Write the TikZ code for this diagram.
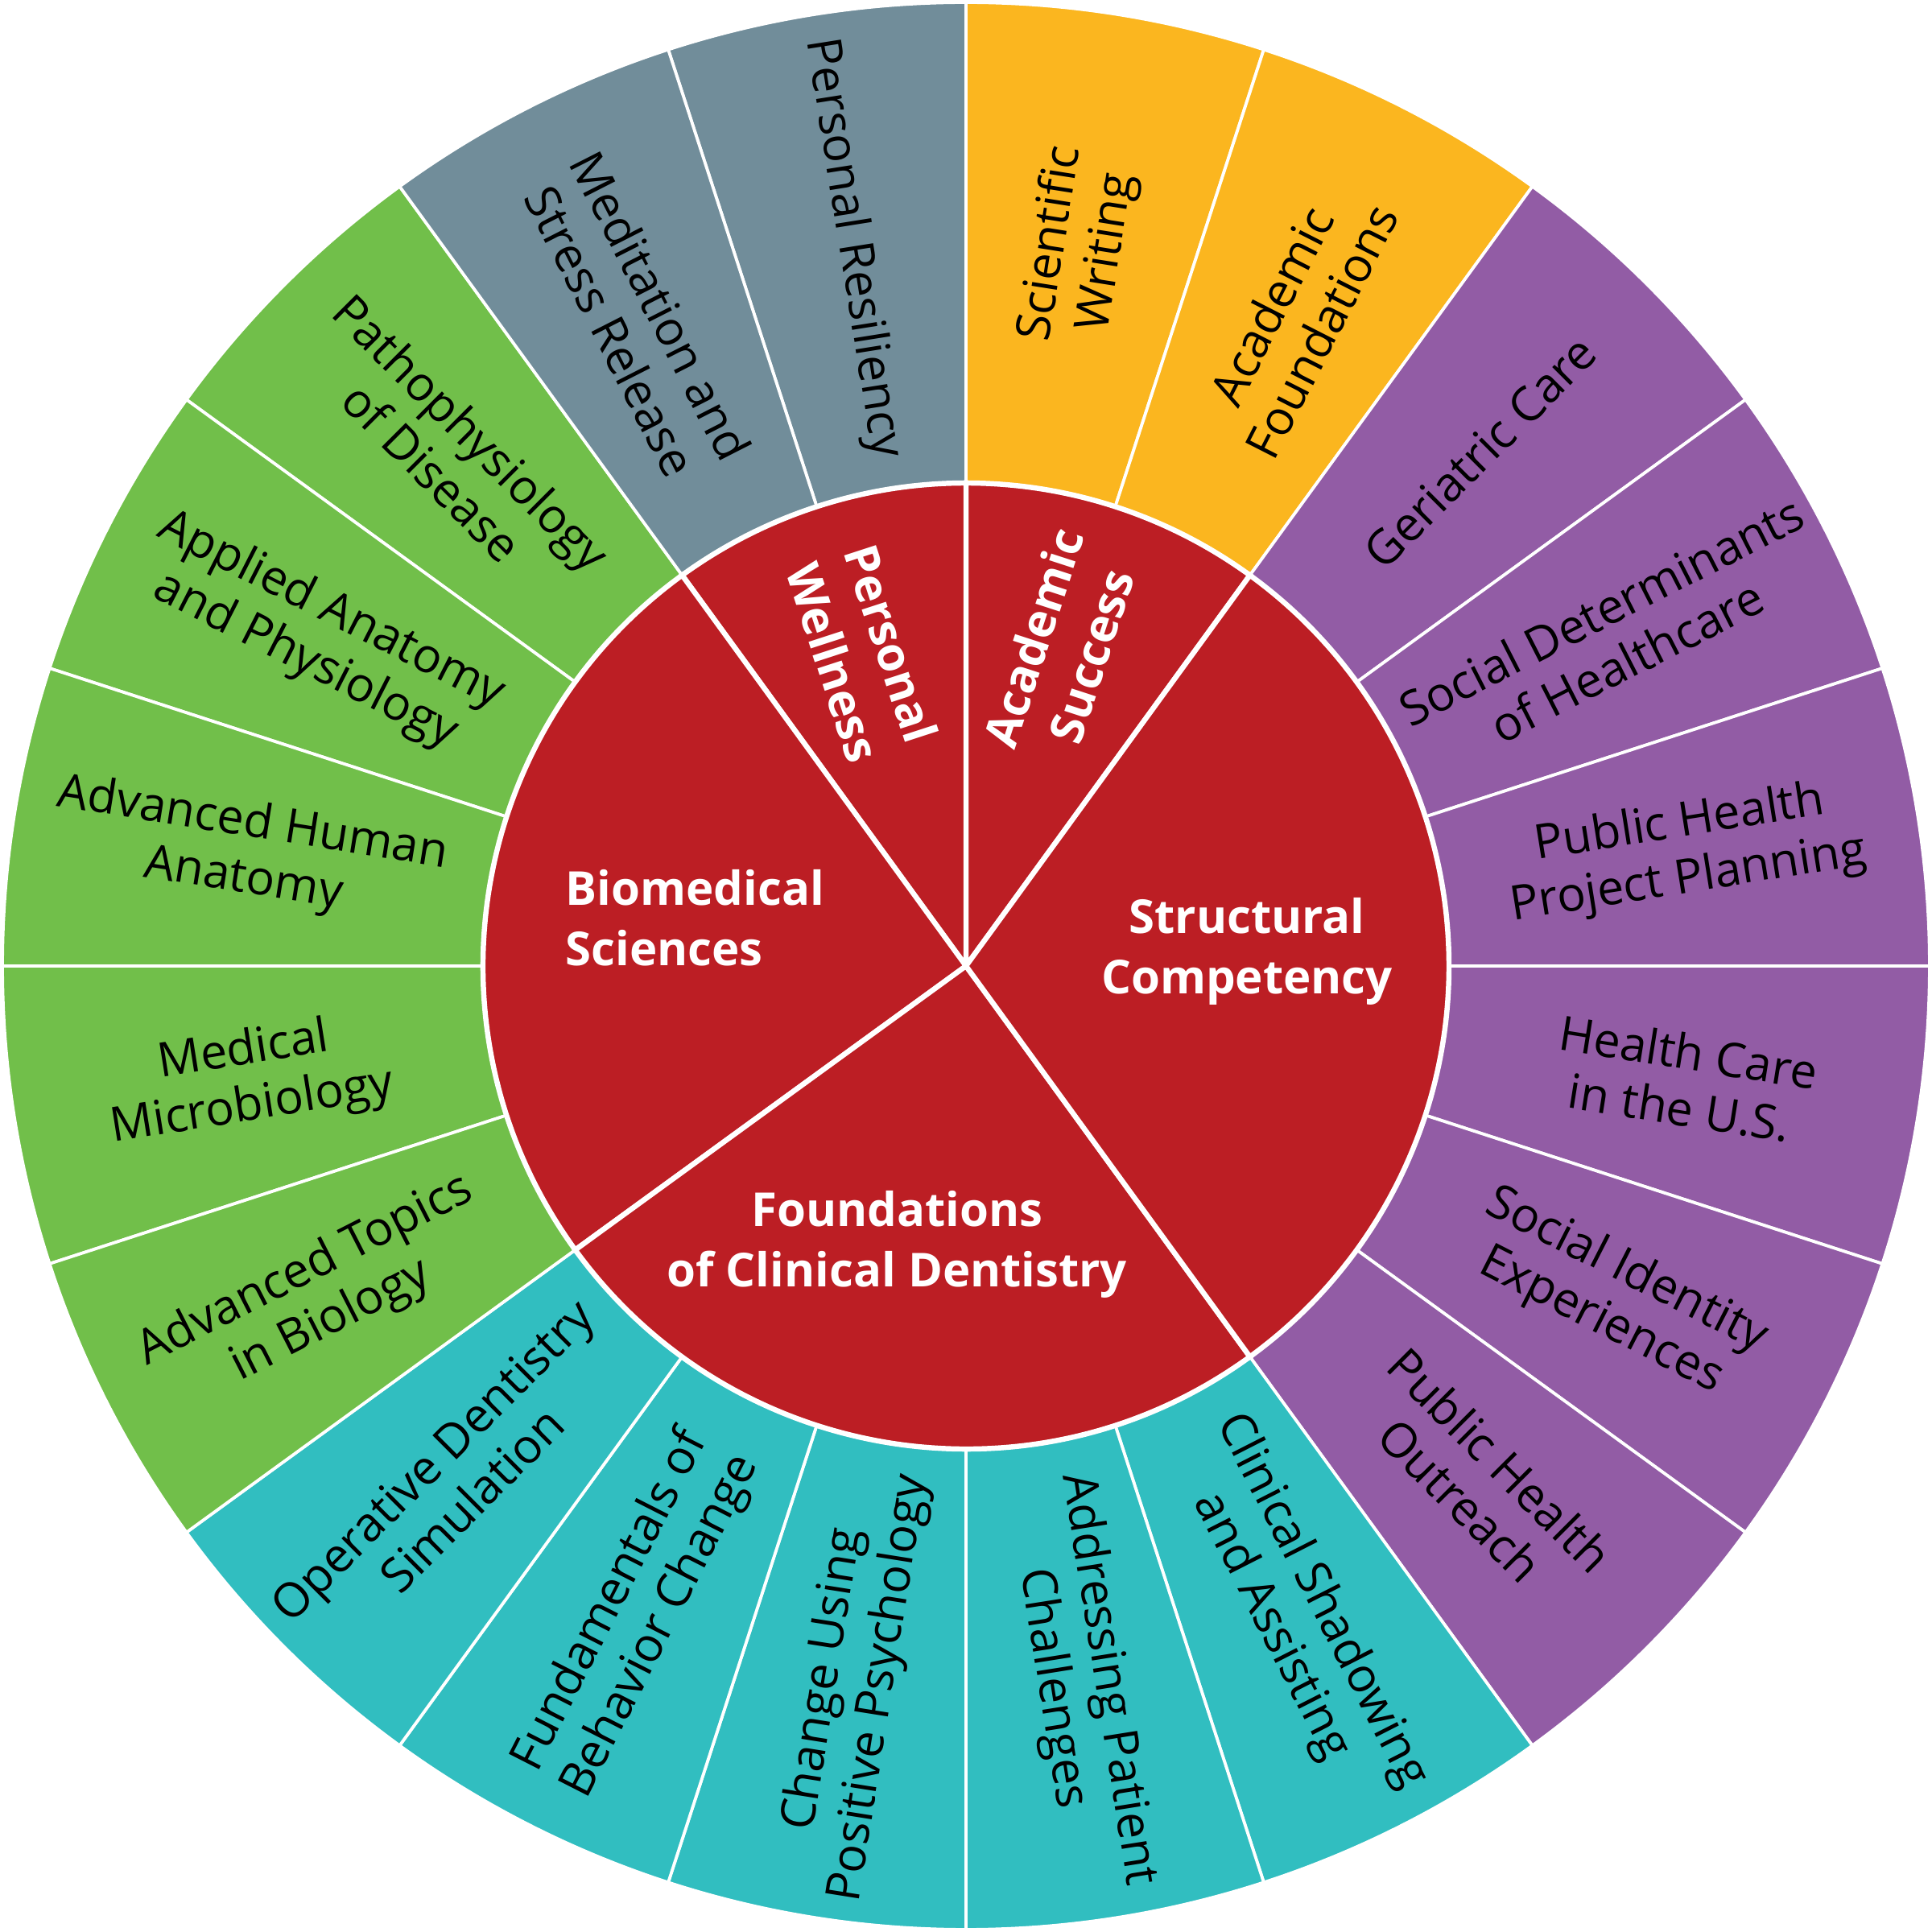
\documentclass[tikz,border=0pt]{standalone}
\usepackage{fontspec}
\setmainfont{Open Sans}
\definecolor{cgreen}{HTML}{71BF4A}
\definecolor{cgray}{HTML}{718D9A}
\definecolor{cyellow}{HTML}{FBB61F}
\definecolor{cpurple}{HTML}{925CA5}
\definecolor{cteal}{HTML}{31BEC0}
\definecolor{cred}{HTML}{BC1E24}
\begin{document}
\begin{tikzpicture}[
  outlbl/.style={text=black,font=\fontsize{11}{13}\selectfont,align=center},
  inlbl/.style={text=white,font=\bfseries\fontsize{10.8}{14}\selectfont,align=center}]
\useasboundingbox (-7.84,-7.84) rectangle (7.84,7.84);
\def\Ro{7.82}\def\Ri{3.92}
% outer ring
\foreach \a/\c in {72/cyellow,54/cyellow,36/cpurple,18/cpurple,0/cpurple,-18/cpurple,-36/cpurple,-54/cpurple,
  -72/cteal,-90/cteal,-108/cteal,-126/cteal,-144/cteal,
  126/cgreen,144/cgreen,162/cgreen,180/cgreen,198/cgreen,90/cgray,108/cgray}{
  \pgfmathsetmacro\b{\a+18}
  \filldraw[fill=\c,draw=white,line width=0.7pt] (\a:\Ri) -- (\a:\Ro) arc[start angle=\a,end angle=\b,radius=\Ro] -- (\b:\Ri) arc[start angle=\b,end angle=\a,radius=\Ri] -- cycle;
}
% inner
\foreach \a/\b in {54/90,90/126,126/216,216/306,-54/54}{
  \filldraw[fill=cred,draw=white,line width=1.2pt] (0,0) -- (\a:\Ri) arc[start angle=\a,end angle=\b,radius=\Ri] -- cycle;
}
% outer labels, right side (rotate = angle)
\foreach \a/\t in {81/{Scientific\\Writing},63/{Academic\\Foundations},45/{Geriatric Care},27/{Social Determinants\\of Healthcare},
  9/{Public Health\\Project Planning},-9/{Health Care\\in the U.S.},-27/{Social Identity\\Experiences},-45/{Public Health\\Outreach},
  -63/{Clinical Shadowing\\and Assisting},-81/{Addressing Patient\\Challenges}}{
  \node[outlbl,rotate=\a] (o\a) at (\a:5.9) {\t};
}
% left side (rotate = angle+180)
\foreach \a/\t in {99/{Personal Resiliency},117/{Meditation and\\Stress Release},135/{Pathophysiology\\of Disease},
  153/{Applied Anatomy\\and Physiology},171/{Advanced Human\\Anatomy},189/{Medical\\Microbiology},207/{Advanced Topics\\in Biology},
  225/{Operative Dentistry\\Simulation},243/{Fundamentals of\\Behavior Change},261/{Change Using\\Positive Psychology}}{
  \pgfmathsetmacro\r{\a+180}
  \node[outlbl,rotate=\r] (p\a) at (\a:5.9) {\t};
}
% inner labels
\node[inlbl,align=left] (bio) at (-2.2,0.39) {Biomedical\\Sciences};
\node[inlbl] (str) at (2.28,0.12) {Structural\\Competency};
\node[inlbl] (fcd) at (-0.56,-2.26) {Foundations\\of Clinical Dentistry};
\node[inlbl,rotate=-72] (pw) at (-0.84,2.54) {Personal\\Wellness};
\node[inlbl,rotate=72] (as) at (0.78,2.59) {Academic\\Success};
\end{tikzpicture}
\end{document}
